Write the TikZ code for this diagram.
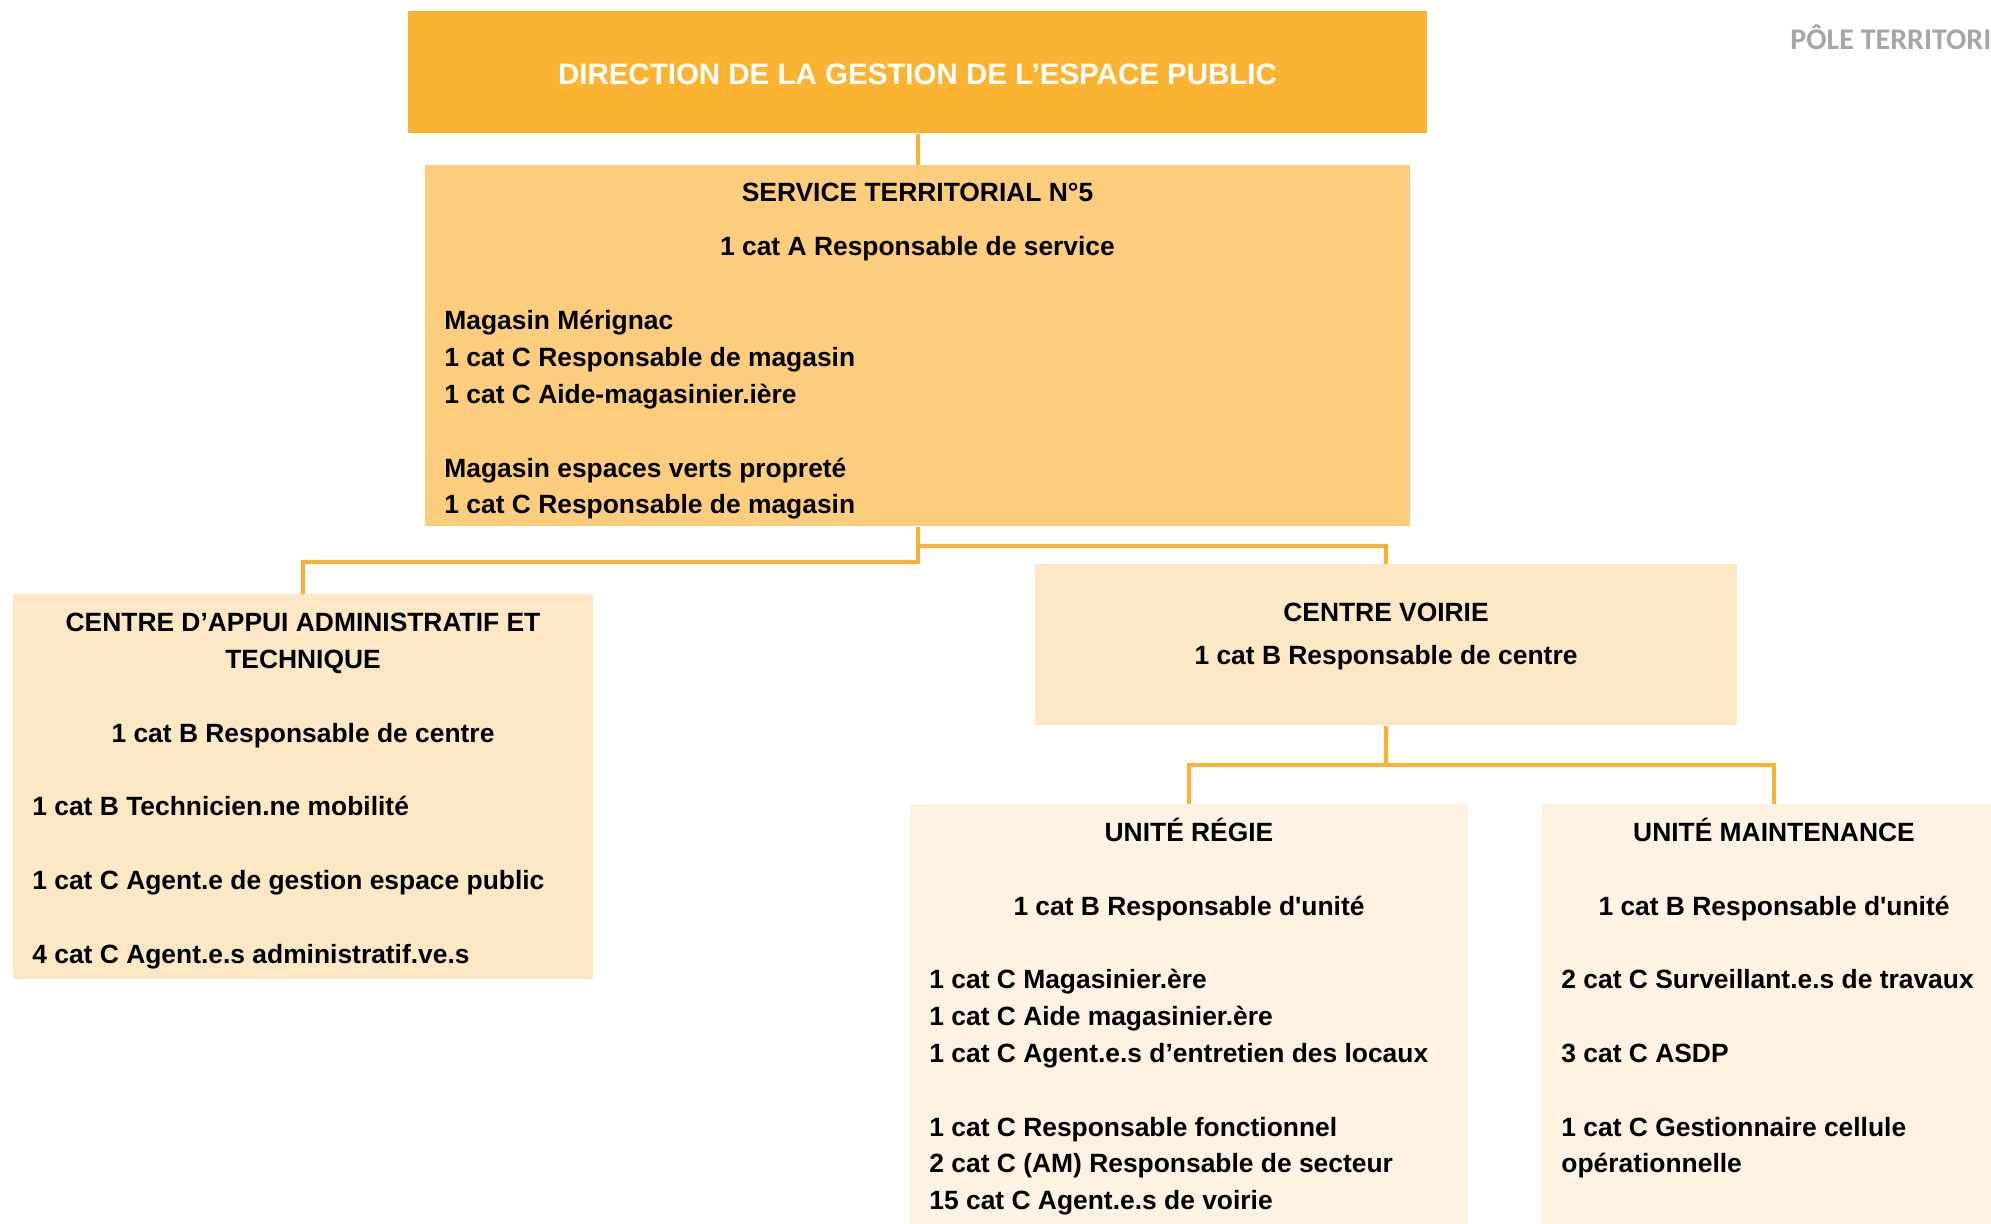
\documentclass[tikz,border=0pt]{standalone}
\usepackage{fontspec}
\setmainfont{Liberation Sans}[Ligatures=TeXOff,BoldFont={Liberation Sans Bold}]
\newfontfamily\polefont{Carlito}
\usepackage{tikz}
\definecolor{dirorange}{HTML}{FBB432}
\definecolor{svcorange}{HTML}{FCCD7D}
\definecolor{centrebg}{HTML}{FDE8C6}
\definecolor{unitebg}{HTML}{FEF3E2}
\definecolor{linkorange}{HTML}{FBB034}
\definecolor{polegray}{HTML}{A6A6A6}

\begin{document}
\begin{tikzpicture}[x=0.5pt,y=-0.5pt,
    box/.style={rectangle,inner sep=0pt,anchor=north west},
    txt/.style={inner sep=0pt,font=\bfseries\fontsize{13.2}{18.4}\selectfont},
    link/.style={draw=linkorange,line width=2pt}]
    \useasboundingbox (0,0) rectangle (1991,1223);
    \clip (0,0) rectangle (1991,1223);
    % boxes
    \node[box,fill=dirorange,minimum width=509.5pt,minimum height=61pt] (dir) at (408,11) {};
    \node[box,fill=svcorange,minimum width=492.5pt,minimum height=180.5pt] (svc) at (425,165) {};
    \node[box,fill=centrebg,minimum width=290pt,minimum height=192.5pt] (caat) at (13,594) {};
    \node[box,fill=centrebg,minimum width=351pt,minimum height=80.5pt] (voirie) at (1035,564) {};
    \node[box,fill=unitebg,minimum width=279pt,minimum height=220pt] (regie) at (910,804) {};
    \node[box,fill=unitebg,minimum width=232pt,minimum height=220pt] (maint) at (1542,804) {};
    % links
    \draw[link] (dir.south) -- (svc.north);
    \draw[link] (svc.south) -- ++(0,35) -| (caat.north);
    \draw[link] (svc.south) -- ++(0,19) -| (voirie.north);
    \draw[link] (voirie.south) -- ++(0,39) -| (regie.north);
    \draw[link] (voirie.south) -- ++(0,39) -| (maint.north);
    % texts
    \node[txt,white,font=\bfseries\fontsize{14.75}{18}\selectfont] (dirtitle) at (917.5,74)
        {DIRECTION DE LA GESTION DE L’ESPACE PUBLIC};
    \node[txt,anchor=north,align=center] (svchead) at (917.5,175.7)
        {\strut SERVICE TERRITORIAL N°5\\[8.6pt]1 cat A Responsable de service};
    \node[txt,anchor=north west,align=left] (svcbody) at (444,303.7)
        {\strut Magasin Mérignac\\1 cat C Responsable de magasin\\1 cat C Aide-magasinier.ière\\[18.4pt]
         Magasin espaces verts propreté\\1 cat C Responsable de magasin};
    \node[txt,anchor=north,align=center] (caathead) at (303,605.7)
        {\strut CENTRE D’APPUI ADMINISTRATIF ET\\TECHNIQUE\\[18.4pt]1 cat B Responsable de centre};
    \node[txt,anchor=north west,align=left] (caatbody) at (32,789.7)
        {\strut 1 cat B Technicien.ne mobilité\\[18.4pt]1 cat C Agent.e de gestion espace public\\[18.4pt]
         4 cat C Agent.e.s administratif.ve.s};
    \node[txt,anchor=north,align=center] (voiriehead) at (1386,595.7)
        {\strut CENTRE VOIRIE\\[3.1pt]1 cat B Responsable de centre};
    \node[txt,anchor=north,align=center] (regiehead) at (1189,815.7)
        {\strut UNITÉ RÉGIE\\[18.4pt]1 cat B Responsable d'unité};
    \node[txt,anchor=north west,align=left] (regiebody) at (929,962.7)
        {\strut 1 cat C Magasinier.ère\\1 cat C Aide magasinier.ère\\1 cat C Agent.e.s d’entretien des locaux\\[18.4pt]
         1 cat C Responsable fonctionnel\\2 cat C (AM) Responsable de secteur\\15 cat C Agent.e.s de voirie};
    \node[txt,anchor=north,align=center] (mainthead) at (1774,815.7)
        {\strut UNITÉ MAINTENANCE\\[18.4pt]1 cat B Responsable d'unité};
    \node[txt,anchor=north west,align=left] (maintbody) at (1561,962.7)
        {\strut 2 cat C Surveillant.e.s de travaux\\[18.4pt]3 cat C ASDP\\[18.4pt]
         1 cat C Gestionnaire cellule\\opérationnelle};
    \node[inner sep=0pt,anchor=base west,text=polegray,font=\polefont\bfseries\fontsize{15}{18}\selectfont]
        (pole) at (1790,49) {PÔLE TERRITORIAL};
\end{tikzpicture}
\end{document}
